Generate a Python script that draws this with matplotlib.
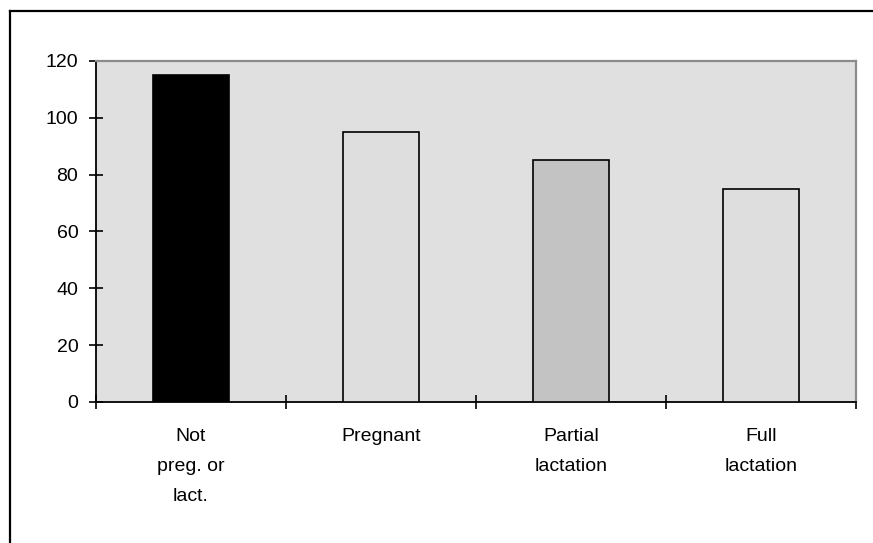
import matplotlib.pyplot as plt
from matplotlib.lines import Line2D

plt.rcParams['font.family'] = ['Liberation Sans', 'DejaVu Sans']

categories = ['Not\npreg. or\nlact.', 'Pregnant', 'Partial\nlactation', 'Full\nlactation']
values = [115, 95, 85, 75]
bar_colors = ['#000000', '#DEDEDE', '#C3C3C3', '#DEDEDE']
yticks = [0, 20, 40, 60, 80, 100, 120]

fig = plt.figure(figsize=(8.73, 5.43), dpi=100)
ax = fig.add_axes([0.110, 0.2597, 0.8705, 0.628])
ax.set_facecolor('#E0E0E0')

x = list(range(len(categories)))
ax.bar(x, values, width=0.4, color=bar_colors, edgecolor='black', linewidth=1.2, zorder=3)

ax.set_xlim(-0.5, len(categories) - 0.5)
ax.set_ylim(0, 120)
ax.set_yticks(yticks)

# labels at category centres, tick marks at boundaries
ax.set_xticks(x)
ax.set_xticklabels(categories, linespacing=2.0)
ax.set_xticks([i + 0.5 for i in range(-1, len(categories))], minor=True)
ax.tick_params(axis='x', which='major', length=0, pad=18.5, labelsize=14)
ax.tick_params(axis='x', which='minor', direction='inout', length=9.5, width=1.2)
ax.tick_params(axis='y', direction='inout', length=9.5, width=1.2, pad=8, labelsize=14)

for side in ['left', 'bottom']:
    ax.spines[side].set_color('black')
    ax.spines[side].set_linewidth(1.3)
for side in ['top', 'right']:
    ax.spines[side].set_color('#8C8C8C')
    ax.spines[side].set_linewidth(1.6)

# outer frame (left and top edges visible)
fig.add_artist(Line2D([9.5 / 873, 9.5 / 873], [0, 1 - 10.5 / 543], transform=fig.transFigure,
                      color='black', linewidth=1.6))
fig.add_artist(Line2D([9.5 / 873, 1], [1 - 10.5 / 543, 1 - 10.5 / 543], transform=fig.transFigure,
                      color='black', linewidth=1.6))

fig.savefig('out.png', dpi=100)
